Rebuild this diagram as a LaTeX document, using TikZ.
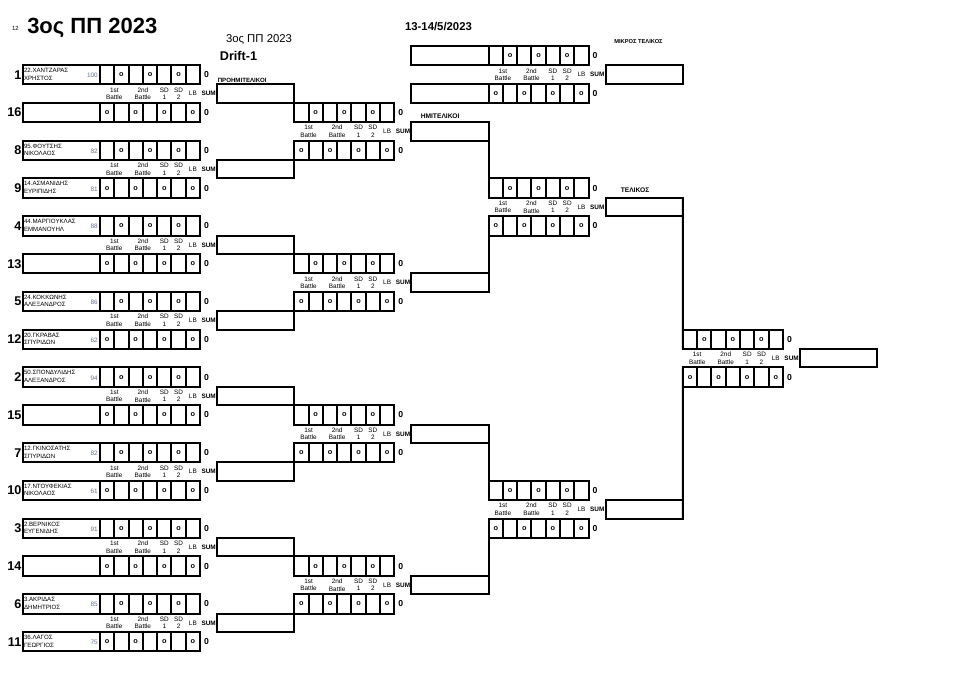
\documentclass[tikz,border=0pt]{standalone}
\usepackage{fontspec}
\setmainfont{Liberation Sans}
\definecolor{seedgray}{RGB}{100,115,145}
\tikzset{
  bline/.style={line width=1.5pt, draw=black},
  rowbox/.style={bline, rectangle, minimum width=75pt, minimum height=14.475pt, inner sep=0pt, outer sep=0pt},
  namebox/.style={bline, rectangle, minimum width=57.975pt, minimum height=14.475pt, inner sep=0pt, outer sep=0pt},
  connbox/.style={bline, rectangle, minimum width=57.975pt, minimum height=13.875pt, inner sep=0pt, outer sep=0pt},
  omark/.style={font=\fontsize{5.5}{6}\selectfont\bfseries, inner sep=0pt},
  zmark/.style={font=\fontsize{6.5}{7}\selectfont\bfseries, inner sep=0pt},
  blab/.style={font=\fontsize{4.8}{5.6}\selectfont, align=center, inner sep=0pt},
  sumlab/.style={font=\fontsize{4.8}{5.5}\selectfont\bfseries, inner sep=0pt},
  nmtext/.style={font=\fontsize{4.6}{5}\selectfont, anchor=west, inner sep=0pt},
  seedtext/.style={font=\fontsize{4.8}{5.5}\selectfont, text=seedgray, anchor=east, inner sep=0pt},
  rank/.style={font=\fontsize{9.5}{10}\selectfont\bfseries, anchor=east, inner sep=0pt},
  stage/.style={font=\fontsize{4.6}{5}\selectfont\bfseries, anchor=west, inner sep=0pt},
}
\newcommand{\scorerow}[4]{%
  \node[rowbox] (#1) at ({#2+50},{#3}) {};
  \foreach \ci in {1,...,6} {\draw[bline] ({#2+\ci*100/7},{#3-9.65}) -- ({#2+\ci*100/7},{#3+9.65});}
  \foreach \ci in {#4} {\node[omark] at ({#2+(\ci-0.5)*100/7},{#3}) {o};}
  \node[zmark] at ({#2+106.5},{#3}) {0};
}
\newcommand{\bandlabels}[2]{%
  \node[blab] at ({#1+100/7},{#2}) {1st\\Battle};
  \node[blab] at ({#1+300/7},{#2}) {2nd\\Battle};
  \node[blab] at ({#1+450/7},{#2}) {SD\\1};
  \node[blab] at ({#1+550/7},{#2}) {SD\\2};
  \node[font=\fontsize{4.8}{5.5}\selectfont, inner sep=0pt] at ({#1+650/7},{#2}) {LB};
  \node[sumlab] at ({#1+108.7},{#2}) {SUM};
}
\newcommand{\duel}[3]{%
  \pgfmathsetmacro\yt{74.7+37.8*(#3)}
  \pgfmathsetmacro\yb{\yt+37.8}
  \pgfmathsetmacro\ym{\yt+18.9}
  \scorerow{#1t}{#2}{\yt}{2,4,6}
  \scorerow{#1b}{#2}{\yb}{1,3,5,7}
  \bandlabels{#2}{\ym}
  \node[connbox] (#1c) at ({#2+155.65},{\ym}) {};
}
\newcommand{\entrant}[5]{%
  \node[namebox, anchor=east] (#1n) at (#1.west) {};
  \node[rank] at ([xshift=-0.8pt]#1n.west) {#2};
  \node[nmtext] at ([xshift=0.8pt,yshift=3.3pt]#1n.west) {#3};
  \node[nmtext] at ([xshift=0.8pt,yshift=-2.4pt]#1n.west) {#4};
  \node[seedtext] at ([xshift=-1.5pt,yshift=-0.6pt]#1n.east) {#5};
}
\begin{document}
\begin{tikzpicture}[x=0.75pt,y=-0.75pt]
\fill[white] (0,0) rectangle (960,675);
\path[use as bounding box] (0,0) rectangle (960,675);

% header
\node[font=\fontsize{4.5}{5}\selectfont, inner sep=0pt] (hnum) at (15.5,28) {12};
\node[font=\fontsize{16.5}{18}\selectfont\bfseries, anchor=west, inner sep=0pt] (htitle) at (27,27.5) {3ος ΠΠ 2023};
\node[font=\fontsize{8.5}{9}\selectfont, inner sep=0pt] (hsub) at (259,40) {3ος ΠΠ 2023};
\node[font=\fontsize{9.5}{10}\selectfont\bfseries, inner sep=0pt] (hdrift) at (238.5,56) {Drift-1};
\node[font=\fontsize{8.5}{9}\selectfont\bfseries, inner sep=0pt] (hdate) at (438.5,27) {13-14/5/2023};
\node[font=\fontsize{4.3}{5}\selectfont\bfseries, inner sep=0pt] (hsmall) at (638.5,41.5) {ΜΙΚΡΟΣ ΤΕΛΙΚΟΣ};
\node[stage] (lqf) at (217.5,80) {ΠΡΟΗΜΙΤΕΛΙΚΟΙ};
\node[stage, font=\fontsize{5}{6}\selectfont\bfseries] (lsf) at (420.5,116.5) {ΗΜΙΤΕΛΙΚΟΙ};
\node[stage, font=\fontsize{5}{6}\selectfont\bfseries] (lf) at (620.5,190) {ΤΕΛΙΚΟΣ};

% first round
\duel{m0}{100}{0}
\duel{m1}{100}{2}
\duel{m2}{100}{4}
\duel{m3}{100}{6}
\duel{m4}{100}{8}
\duel{m5}{100}{10}
\duel{m6}{100}{12}
\duel{m7}{100}{14}
\entrant{m0t}{1}{22.ΧΑΝΤΖΑΡΑΣ}{ΧΡΗΣΤΟΣ}{100}
\entrant{m0b}{16}{}{}{}
\entrant{m1t}{8}{95.ΦΟΥΤΣΗΣ}{ΝΙΚΟΛΑΟΣ}{82}
\entrant{m1b}{9}{14.ΑΣΜΑΝΙΔΗΣ}{ΕΥΡΙΠΙΔΗΣ}{81}
\entrant{m2t}{4}{44.ΜΑΡΓΙΟΥΚΛΑΣ}{ΕΜΜΑΝΟΥΗΛ}{88}
\entrant{m2b}{13}{}{}{}
\entrant{m3t}{5}{24.ΚΟΚΚΩΝΗΣ}{ΑΛΕΞΑΝΔΡΟΣ}{86}
\entrant{m3b}{12}{20.ΓΚΡΑΒΑΣ}{ΣΠΥΡΙΔΩΝ}{62}
\entrant{m4t}{2}{50.ΣΠΟΝΔΥΛΙΔΗΣ}{ΑΛΕΞΑΝΔΡΟΣ}{94}
\entrant{m4b}{15}{}{}{}
\entrant{m5t}{7}{12.ΓΚΙΝΟΣΑΤΗΣ}{ΣΠΥΡΙΔΩΝ}{82}
\entrant{m5b}{10}{17.ΝΤΟΥΦΕΚΙΑΣ}{ΝΙΚΟΛΑΟΣ}{61}
\entrant{m6t}{3}{2.ΒΕΡΝΙΚΟΣ}{ΕΥΓΕΝΙΔΗΣ}{91}
\entrant{m6b}{14}{}{}{}
\entrant{m7t}{6}{3.ΑΚΡΙΔΑΣ}{ΔΗΜΗΤΡΙΟΣ}{85}
\entrant{m7b}{11}{36.ΛΑΓΟΣ}{ΓΕΩΡΓΙΟΣ}{75}

% quarter finals
\duel{q0}{294.3}{1}
\duel{q1}{294.3}{5}
\duel{q2}{294.3}{9}
\duel{q3}{294.3}{13}
% semi finals
\duel{s0}{488.6}{3}
\duel{s1}{488.6}{11}
% final
\duel{f}{682.9}{7}
% third place
\duel{tp}{488.6}{-0.5}
\node[namebox, anchor=east] (tptn) at (tpt.west) {};
\node[namebox, anchor=east] (tpbn) at (tpb.west) {};

% connectors
\draw[bline] (m0c.north east) -- (q0t.south west);
\draw[bline] (m1c.south east) -- (q0b.north west);
\draw[bline] (m2c.north east) -- (q1t.south west);
\draw[bline] (m3c.south east) -- (q1b.north west);
\draw[bline] (m4c.north east) -- (q2t.south west);
\draw[bline] (m5c.south east) -- (q2b.north west);
\draw[bline] (m6c.north east) -- (q3t.south west);
\draw[bline] (m7c.south east) -- (q3b.north west);
\draw[bline] (q0c.north east) -- (s0t.south west);
\draw[bline] (q1c.south east) -- (s0b.north west);
\draw[bline] (q2c.north east) -- (s1t.south west);
\draw[bline] (q3c.south east) -- (s1b.north west);
\draw[bline] (s0c.north east) -- (ft.south west);
\draw[bline] (s1c.south east) -- (fb.north west);
\end{tikzpicture}
\end{document}
